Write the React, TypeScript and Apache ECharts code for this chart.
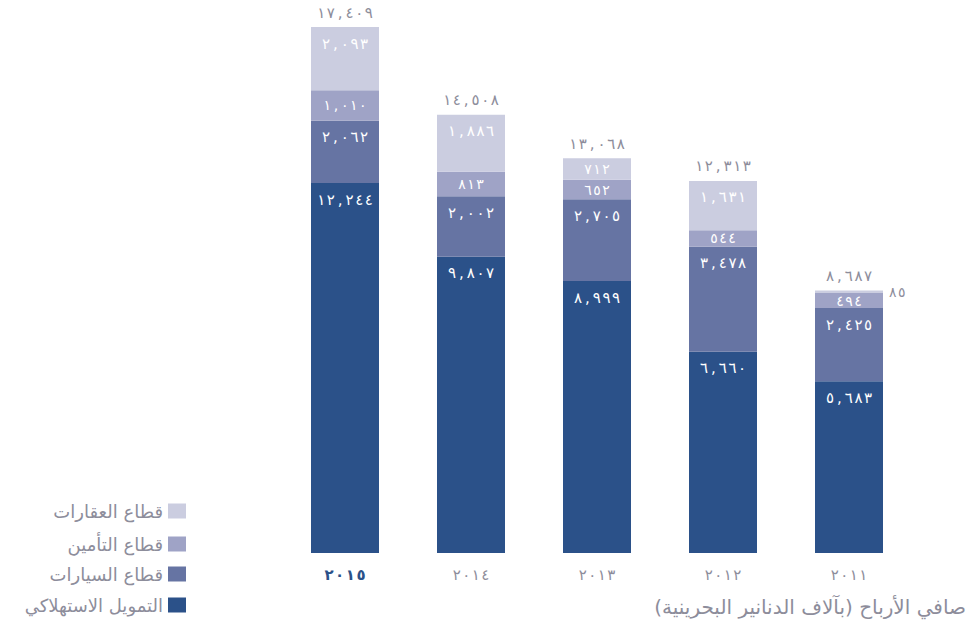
import React, { useEffect, useRef } from "react";
import * as echarts from "echarts";

const years = ["2015", "2014", "2013", "2012", "2011"];
const consumerFinance = [12244, 9807, 8999, 6660, 5683];
const motors = [2062, 2002, 2705, 3478, 2425];
const insurance = [1010, 813, 652, 544, 494];
const realEstate = [2093, 1886, 712, 1631, 85];
const totals = [17409, 14508, 13068, 12313, 8687];

const names = {
  consumer: "التمويل الاستهلاكي",
  motors: "قطاع السيارات",
  insurance: "قطاع التأمين",
  realEstate: "قطاع العقارات",
};
const caption = "صافي الأرباح (بآلاف الدنانير البحرينية)";

const COLORS = {
  consumer: "#2b5189",
  motors: "#6674a3",
  insurance: "#9fa3c6",
  realEstate: "#cbcde0",
};
const GREY = "#8d8d9b";
const FONT = "DejaVu Sans";

const AR = "٠١٢٣٤٥٦٧٨٩";
const toArabic = (s: string) => s.replace(/\d/g, (d) => AR[+d]);
const ltr = (s: string) => "\u202D" + s + "\u202C";
const spaced = (s: string) => s.split("").join("\u200A");
const fmt = (n: number) =>
  ltr(
    spaced(toArabic(String(n).replace(/\B(?=(\d{3})+(?!\d))/g, ","))).replace(
      /\u200A,\u200A/,
      "\u2009,\u2009"
    )
  );
const yearFmt = (v: string) => ltr(spaced(toArabic(v)));

export default function App() {
  const ref = useRef<HTMLDivElement>(null);
  useEffect(() => {
    if (!ref.current) return;
    const chart = echarts.init(ref.current, null, { renderer: "svg" });
    const segLabel = {
      show: true,
      position: "insideTop" as const,
      distance: 9,
      color: "#ffffff",
      fontSize: 15,
      fontFamily: FONT,
      formatter: (p: any) => fmt(p.value),
    };
    // segments too thin for a label at their top get a centred or outside label
    const items = (data: number[]) =>
      data.map((v) =>
        v < 200
          ? { value: v, label: { position: "right", distance: 6, color: GREY, fontSize: 14 } }
          : v < 1100
          ? { value: v, label: { position: "inside", fontSize: 14 } }
          : v
      );
    const mk = (key: keyof typeof names, data: number[]) => ({
      name: names[key],
      type: "bar",
      stack: "a",
      barWidth: 68,
      data: items(data),
      itemStyle: { color: COLORS[key] },
      label: segLabel,
    });
    const legendTops = [502, 535, 565, 596];
    const legendKeys: (keyof typeof names)[] = ["realEstate", "insurance", "motors", "consumer"];
    chart.setOption({
      animation: false,
      grid: { left: 282, right: 65, top: 27, bottom: 75 },
      xAxis: {
        type: "category",
        data: years,
        axisLine: { show: false },
        axisTick: { show: false },
        axisLabel: {
          margin: 14,
          fontSize: 15,
          fontFamily: FONT,
          color: GREY,
          formatter: (v: string, i: number) =>
            i === 0 ? `{hl|${yearFmt(v)}}` : yearFmt(v),
          rich: { hl: { color: COLORS.consumer, fontSize: 15, fontFamily: FONT, fontWeight: "bold" } },
        },
      },
      yAxis: { type: "value", min: 0, max: 17409, show: false },
      legend: legendKeys.map((k, i) => ({
        data: [names[k]],
        orient: "vertical",
        align: "right",
        right: 786,
        top: legendTops[i] - 5,
        itemWidth: 18,
        itemHeight: 15,
        itemGap: 10,
        icon: "rect",
        selectedMode: false,
        textStyle: { color: GREY, fontSize: 18, fontFamily: FONT },
      })),
      series: [
        mk("consumer", consumerFinance),
        mk("motors", motors),
        mk("insurance", insurance),
        mk("realEstate", realEstate),
        {
          name: "total",
          type: "bar",
          stack: "a",
          barWidth: 68,
          data: totals.map(() => 0),
          itemStyle: { color: "transparent" },
          label: {
            show: true,
            position: "top",
            distance: 7,
            color: GREY,
            fontSize: 15,
            fontFamily: FONT,
            formatter: (p: any) => fmt(totals[p.dataIndex]),
          },
        },
      ],
      graphic: [
        {
          type: "text",
          right: 11,
          top: 597,
          style: { text: caption, fill: GREY, fontSize: 20, fontFamily: FONT },
        },
      ],
    });
    return () => chart.dispose();
  }, []);
  return (
    <div
      ref={ref}
      style={{ position: "absolute", left: 0, top: 0, width: 977, height: 628 }}
    />
  );
}
